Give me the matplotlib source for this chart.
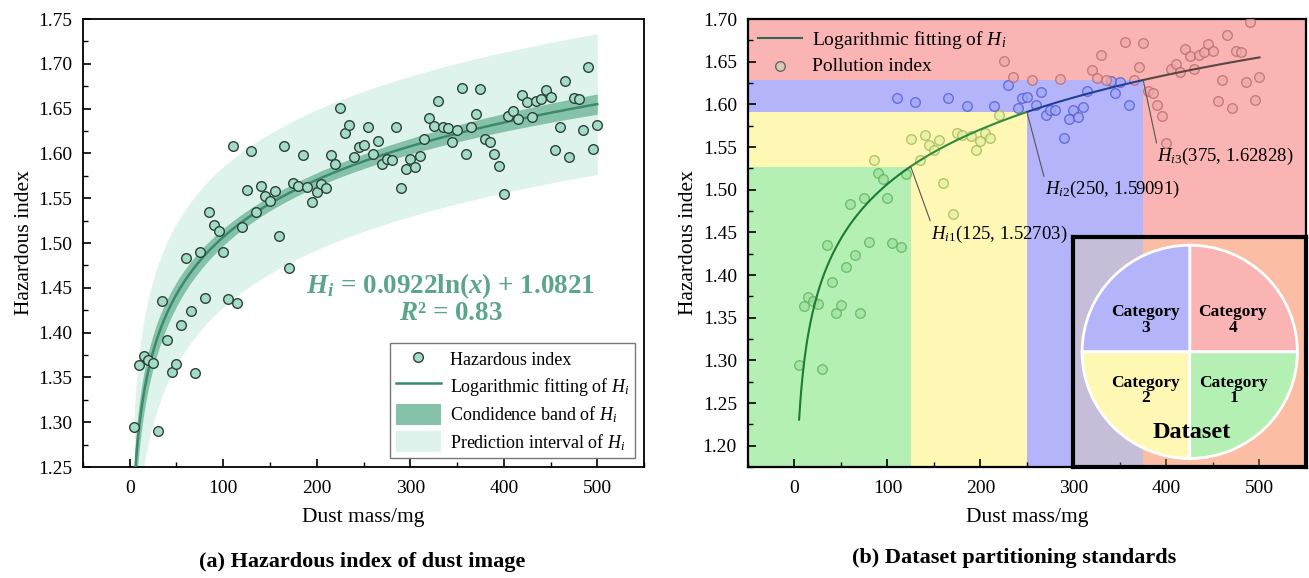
import matplotlib
matplotlib.use("Agg")
import matplotlib.pyplot as plt
import numpy as np
from matplotlib.ticker import MultipleLocator, FormatStrFormatter

plt.rcParams['font.family'] = 'Liberation Serif'
plt.rcParams['mathtext.fontset'] = 'custom'
plt.rcParams['mathtext.rm'] = 'Liberation Serif'
plt.rcParams['mathtext.it'] = 'Liberation Serif:italic'
plt.rcParams['mathtext.bf'] = 'Liberation Serif:bold'
plt.rcParams['mathtext.bfit'] = 'Liberation Serif:italic:bold'

# dust mass (mg) and hazardous index
dust_mass = [5, 10, 15, 20, 25, 30, 35, 40, 45, 50,
             55, 60, 65, 70, 75, 80, 85, 90, 95, 100,
             105, 110, 115, 120, 125, 130, 135, 140, 145, 150,
             155, 160, 165, 170, 175, 180, 185, 190, 195, 200,
             205, 210, 215, 220, 225, 230, 235, 240, 245, 250,
             255, 260, 265, 270, 275, 280, 285, 290, 295, 300,
             305, 310, 315, 320, 325, 330, 335, 340, 345, 350,
             355, 360, 365, 370, 375, 380, 385, 390, 395, 400,
             405, 410, 415, 420, 425, 430, 435, 440, 445, 450,
             455, 460, 465, 470, 475, 480, 485, 490, 495, 500]
hazard = [1.295, 1.364, 1.374, 1.370, 1.366, 1.290, 1.435, 1.392, 1.356, 1.365,
          1.409, 1.483, 1.424, 1.355, 1.490, 1.439, 1.535, 1.520, 1.513, 1.490,
          1.437, 1.608, 1.433, 1.518, 1.559, 1.603, 1.535, 1.564, 1.553, 1.547,
          1.558, 1.508, 1.608, 1.472, 1.567, 1.564, 1.598, 1.563, 1.546, 1.557,
          1.566, 1.561, 1.598, 1.588, 1.651, 1.623, 1.632, 1.596, 1.607, 1.609,
          1.629, 1.599, 1.614, 1.588, 1.594, 1.593, 1.630, 1.561, 1.583, 1.594,
          1.585, 1.597, 1.616, 1.640, 1.631, 1.658, 1.629, 1.628, 1.613, 1.626,
          1.673, 1.599, 1.629, 1.644, 1.672, 1.616, 1.613, 1.599, 1.586, 1.555,
          1.642, 1.647, 1.638, 1.665, 1.657, 1.641, 1.658, 1.661, 1.671, 1.663,
          1.604, 1.629, 1.681, 1.596, 1.662, 1.661, 1.626, 1.696, 1.605, 1.632]

# fitted model printed on the chart: H = a*ln(x) + b
fit_a = 0.0922
fit_b = 1.0821
r_squared = 0.83

# partition points
bound_x = [125, 250, 375]
bound_y = [1.52703, 1.59091, 1.62828]
bound_labels = [r'$H_{i1}$(125, 1.52703)', r'$H_{i2}$(250, 1.59091)', r'$H_{i3}$(375, 1.62828)']

pie_labels = ['Category\n4', 'Category\n3', 'Category\n2', 'Category\n1']
pie_shares = [25, 25, 25, 25]

# colours
c_green = '#b4f0b4'
c_yellow = '#fff8b4'
c_blue = '#b4b4fa'
c_red = '#fab4b4'

x = np.array(dust_mass, dtype=float)
y = np.array(hazard)
lx = np.log(x)
n = len(x)

xg = np.linspace(5, 500, 400)
yg = fit_a * np.log(xg) + fit_b
resid = y - (fit_a * lx + fit_b)
s = np.sqrt(np.sum(resid ** 2) / (n - 2))
sxx = np.sum((lx - lx.mean()) ** 2)
t = 1.984
conf = t * s * np.sqrt(1.0 / n + (np.log(xg) - lx.mean()) ** 2 / sxx)
pred = t * s * np.sqrt(1 + 1.0 / n + (np.log(xg) - lx.mean()) ** 2 / sxx)

fig = plt.figure(figsize=(13.09, 5.78), dpi=100)


def style_axes(ax, spine_w):
    ax.xaxis.set_major_locator(MultipleLocator(100))
    ax.xaxis.set_minor_locator(MultipleLocator(50))
    ax.yaxis.set_major_locator(MultipleLocator(0.05))
    ax.yaxis.set_minor_locator(MultipleLocator(0.025))
    ax.yaxis.set_major_formatter(FormatStrFormatter('%.2f'))
    ax.tick_params(which='both', direction='in', labelsize=14)
    ax.tick_params(which='major', length=6, width=1.2)
    ax.tick_params(which='minor', length=3.5, width=1.0)
    ax.tick_params(axis='x', which='major', pad=9)
    ax.tick_params(axis='y', which='major', pad=8)
    for sp in ax.spines.values():
        sp.set_linewidth(spine_w)
    ax.set_xlabel('Dust mass/mg', fontsize=15.5, labelpad=8)
    ax.set_ylabel('Hazardous index', fontsize=15.5, labelpad=3)


# ---------- (a) ----------
ax1 = fig.add_axes([0.0634, 0.192, 0.4286, 0.775])
ax1.fill_between(xg, yg - pred, yg + pred, color='#ddf3eb', lw=0, label=r'Prediction interval of $H_i$', zorder=1)
ax1.fill_between(xg, yg - conf, yg + conf, color='#86c2a9', lw=0, label=r'Condidence band of $H_i$', zorder=2)
ax1.plot(xg, yg, color='#3b8a6b', lw=1.8, label=r'Logarithmic fitting of $H_i$', zorder=3)
ax1.scatter(x, y, s=48, facecolor='#a2dcc5', edgecolor='#2f3f3a', linewidth=1.0,
            label='Hazardous index', zorder=4)
ax1.set_xlim(-50, 550)
ax1.set_ylim(1.25, 1.75)
style_axes(ax1, 1.3)

ax1.text(343, 1.452, r'$\mathbfit{H_i}$ = 0.0922ln($\mathbfit{x}$) + 1.0821', fontsize=19.5,
         fontweight='bold', color='#5ba68a', ha='center', va='center')
ax1.text(344, 1.421, r'$\mathbfit{R}$² = ' + f'{r_squared:.2f}', fontsize=19.5,
         fontweight='bold', color='#5ba68a', ha='center', va='center')

h, l = ax1.get_legend_handles_labels()
order = [3, 2, 1, 0]
ax1.legend([h[i] for i in order], [l[i] for i in order], loc='lower right', fontsize=13,
           frameon=True, fancybox=False, edgecolor='#777777', framealpha=1,
           handlelength=2.5, handleheight=1.4, borderpad=0.3, labelspacing=0.35,
           borderaxespad=0.5, handletextpad=0.5)

fig.text(0.277, 0.028, '(a) Hazardous index of dust image', fontsize=16, fontweight='bold',
         ha='center', va='center')

# ---------- (b) ----------
ax2 = fig.add_axes([0.5714, 0.192, 0.4263, 0.775])
ymin2, ymax2 = 1.175, 1.70
ax2.set_xlim(-50, 550)
ax2.set_ylim(ymin2, ymax2)
ax2.set_facecolor(c_red)
ax2.fill_between([-50, bound_x[2]], ymin2, bound_y[2], color=c_blue, lw=0, zorder=0.1)
ax2.fill_between([-50, bound_x[1]], ymin2, bound_y[1], color=c_yellow, lw=0, zorder=0.2)
ax2.fill_between([-50, bound_x[0]], ymin2, bound_y[0], color=c_green, lw=0, zorder=0.3)

# category of each point from the region it sits in
edge_cols = ['#5cb05c', '#a2b35a', '#5058d8', '#b86a6a']
face_cols = ['#9fe09f', '#e6f0a0', '#a0a8f0', '#f0a8a8']
cat = np.full(n, 3)
for k in [2, 1, 0]:
    m = (x < bound_x[k]) & (y < bound_y[k])
    cat[m] = k
for k in range(4):
    m = cat == k
    ax2.scatter(x[m], y[m], s=48, facecolor=face_cols[k], edgecolor=edge_cols[k],
                linewidth=1.0, alpha=0.75, zorder=3)

seg_cols = ['#1f7a38', '#2e8b3e', '#233f95', '#5b4646']
edges = [5] + bound_x + [500]
for k in range(4):
    m = (xg >= edges[k]) & (xg <= edges[k + 1])
    ax2.plot(xg[m], yg[m], color=seg_cols[k], lw=1.5, zorder=4)

text_pos = [(147, 1.448), (269, 1.500), (390, 1.539)]
for bx, by, lab, tp in zip(bound_x, bound_y, bound_labels, text_pos):
    ax2.annotate(lab, xy=(bx, by), xytext=tp, fontsize=13.5, ha='left', va='center',
                 arrowprops=dict(arrowstyle='-', color='#555555', lw=0.8,
                                 shrinkA=0, shrinkB=0, relpos=(0.0, 1.0)), zorder=5)

lh1, = ax2.plot([], [], color='#2d6a4f', lw=1.5)
lh2 = ax2.scatter([], [], s=48, facecolor='#d8c8b8', edgecolor='#666666', linewidth=1.0)
ax2.legend([lh1, lh2], [r'Logarithmic fitting of $H_i$', 'Pollution index'], loc='upper left',
           fontsize=14, frameon=False, handlelength=2.3, borderaxespad=0.1,
           labelspacing=0.35, handletextpad=0.5)

style_axes(ax2, 1.6)

# dataset pie inset
axi = ax2.inset_axes([300, ymin2, 250, 1.445 - ymin2], transform=ax2.transData, zorder=6)
axi.pie(pie_shares, colors=[c_red, c_blue, c_yellow, c_green], startangle=0, counterclock=True,
        radius=1.0, wedgeprops=dict(edgecolor='white', linewidth=2))
axi.set_frame_on(True)
axi.set_facecolor((1.0, 0.85, 0.45, 0.25))
axi.set_xlim(-1.08, 1.08)
axi.set_ylim(-1.08, 1.08)
axi.set_aspect('auto')
axi.set_xticks([])
axi.set_yticks([])
for sp in axi.spines.values():
    sp.set_visible(True)
    sp.set_linewidth(3)
    sp.set_color('black')
lab_pos = [(0.40, 0.30), (-0.41, 0.30), (-0.41, -0.36), (0.41, -0.36)]
for lab, (px, py) in zip(pie_labels, lab_pos):
    axi.text(px, py, lab, fontsize=12.5, fontweight='bold', ha='center', va='center',
             linespacing=0.95)
axi.text(0.02, -0.76, 'Dataset', fontsize=17.5, fontweight='bold', ha='center', va='center')

fig.text(0.775, 0.035, '(b) Dataset partitioning standards', fontsize=16, fontweight='bold',
         ha='center', va='center')

fig.savefig('out.png', dpi=100)
